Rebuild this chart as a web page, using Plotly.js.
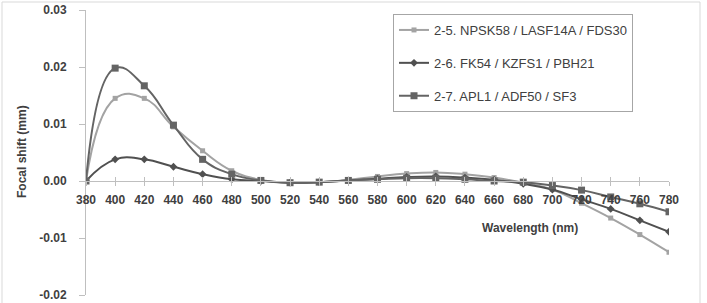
<!DOCTYPE html>
<html>
<head>
<meta charset="utf-8">
<script src="https://cdn.plot.ly/plotly-3.0.1.min.js"></script>
<style>
html,body{margin:0;padding:0;background:#fff;}
#chart{width:707px;height:303px;}
</style>
</head>
<body>
<div id="chart"></div>
<script>
const wavelengths = [380,400,420,440,460,480,500,520,540,560,580,600,620,640,660,680,700,720,740,760,780];
const seriesNames = ["2-5. NPSK58 / LASF14A / FDS30", "2-6. FK54 / KZFS1 / PBH21", "2-7. APL1 / ADF50 / SF3"];
const npsk58 = [0, 0.0145, 0.0145, 0.0095, 0.0053, 0.0018, 0.0002, -0.0003, -0.0002, 0.0002, 0.0008, 0.0013, 0.0015, 0.0012, 0.0006, -0.0003, -0.0015, -0.0039, -0.0065, -0.0094, -0.0125];
const fk54 = [0, 0.0038, 0.0038, 0.0025, 0.0012, 0.0003, 0.0000, -0.0003, -0.0002, 0.0001, 0.0004, 0.0007, 0.0008, 0.0006, 0.0002, -0.0005, -0.0015, -0.0032, -0.0049, -0.0069, -0.0089];
const apl1 = [0, 0.0198, 0.0167, 0.0098, 0.0038, 0.0012, 0.0001, -0.0003, -0.0002, 0.0001, 0.0003, 0.0005, 0.0005, 0.0003, 0.0000, -0.0002, -0.0008, -0.0016, -0.0028, -0.0040, -0.0054];
const yTicks = [-0.02, -0.01, 0.00, 0.01, 0.02, 0.03];
const yTickLabels = ["-0.02", "-0.01", "0.00", "0.01", "0.02", "0.03"];

const colors = ["#a3a3a3", "#505050", "#646464"];
const symbols = ["square", "diamond", "square"];
const sizes = [5, 6, 7];
const data = [npsk58, fk54, apl1].map((vals, i) => ({
  x: wavelengths, y: vals, name: seriesNames[i], type: "scatter", mode: "lines+markers",
  line: {color: colors[i], width: 2, shape: "spline", smoothing: 1.3},
  marker: {color: colors[i], symbol: symbols[i], size: sizes[i]},
  legendgroup: "g" + i
}));

const tickFont = {family: "Liberation Sans, Arial, sans-serif", size: 12, color: "#404040", weight: "bold"};
const layout = {
  width: 707, height: 303,
  margin: {l: 86, r: 38, t: 10, b: 8},
  paper_bgcolor: "#fff", plot_bgcolor: "rgba(0,0,0,0)",
  showlegend: true,
  legend: {x: 0.5266, y: 0.986, xanchor: "left", yanchor: "top", bgcolor: "#fff",
    bordercolor: "#a6a6a6", borderwidth: 1, traceorder: "grouped", tracegroupgap: 13,
    itemwidth: 30,
    font: {family: "Liberation Sans, Arial, sans-serif", size: 13, color: "#404040"}},
  xaxis: {range: [380, 780], tickvals: wavelengths, ticktext: wavelengths.map(String),
    anchor: "free", position: 0.4, showline: true, linecolor: "#bfbfbf", linewidth: 1,
    ticks: "outside", ticklen: 4, tickcolor: "#bfbfbf", showgrid: false, zeroline: false,
    tickfont: tickFont, ticklabelstandoff: 4, fixedrange: true},
  xaxis2: {range: [380, 780], tickvals: wavelengths, overlaying: "x", anchor: "free", position: 0.4,
    showline: false, ticks: "inside", ticklen: 4, tickcolor: "#bfbfbf", showticklabels: false,
    showgrid: false, zeroline: false},
  yaxis: {range: [-0.02, 0.03], tickvals: yTicks, ticktext: yTickLabels, showline: true,
    linecolor: "#bfbfbf", linewidth: 1, ticks: "outside", ticklen: 6, tickcolor: "#bfbfbf",
    showgrid: false, zeroline: false, tickfont: tickFont, ticklabelstandoff: 10, fixedrange: true},
  annotations: [
    {text: "Wavelength (nm)", xref: "paper", yref: "paper", x: (530-86)/583, y: (295-228)/285,
      xanchor: "center", yanchor: "middle", showarrow: false,
      font: {family: "Liberation Sans, Arial, sans-serif", size: 12, color: "#404040", weight: "bold"}},
    {text: "Focal shift (mm)", xref: "paper", yref: "paper", x: (22-86)/583, y: (295-152)/285,
      xanchor: "center", yanchor: "middle", showarrow: false, textangle: -90,
      font: {family: "Liberation Sans, Arial, sans-serif", size: 12, color: "#404040", weight: "bold"}}
  ],
  shapes: [
    {type: "path", xref: "paper", yref: "paper",
     path: "M " + (-84/583) + " " + (-20/285) + " L " + (-84/583) + " " + (293/285) + " L " + (614/583) + " " + (293/285) + " L " + (614/583) + " " + (-20/285),
     line: {color: "#d9d9d9", width: 1}}
  ]
};
data.push({x: [380], y: [null], xaxis: "x2", showlegend: false, hoverinfo: "skip", mode: "markers"});
Plotly.newPlot("chart", data, layout, {displayModeBar: false, staticPlot: true});
</script>
</body>
</html>
